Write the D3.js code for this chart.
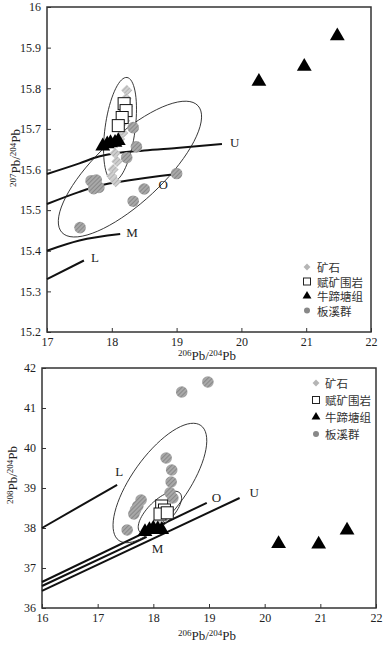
<!DOCTYPE html>
<html lang="zh">
<head>
<meta charset="UTF-8">
<title>Pb isotopes</title>
<style>
  body { margin: 0; background: #fff; }
  svg { display: block; }
  .tick text { font-family: "Liberation Serif", "DejaVu Serif", serif; font-size: 12px; fill: #222; }
  .lab { font-family: "Liberation Serif", serif; font-size: 13px; fill: #222; }
  .leg { font-family: "Noto Sans CJK SC", sans-serif; font-size: 11.5px; fill: #333; }
</style>
</head>
<body>
<div id="chart"></div>
<script src="https://d3js.org/d3.v7.min.js"></script>
<script>
// ---------- data : top panel 206Pb/204Pb vs 207Pb/204Pb ----------
var oreA = [[18.23,15.795],[18.22,15.775],[18.24,15.755],[18.2,15.72],[18.17,15.69],[18.12,15.675],
            [18.05,15.64],[18.08,15.62],[18.02,15.60],[18.0,15.584],[18.06,15.57]];
var hostA = [[18.19,15.762],[18.22,15.745],[18.16,15.728],[18.10,15.708]];
var ntA = [[17.86,15.66],[17.93,15.665],[17.98,15.668],[18.05,15.669],[18.1,15.673],
           [20.27,15.819],[20.97,15.856],[21.48,15.931]];
var bxA = [[18.33,15.703],[18.38,15.656],[18.23,15.629],[17.68,15.572],[17.76,15.574],[17.72,15.553],
           [17.80,15.556],[18.50,15.552],[18.33,15.522],[17.51,15.457],[19.0,15.59]];
var curvesA = {
  U: [[17,15.589],[17.5,15.615],[17.8,15.632],[18.5,15.647],[19,15.653],[19.7,15.663]],
  O: [[17,15.515],[17.5,15.545],[17.8,15.56],[18.3,15.574],[18.74,15.584],[19.0,15.589]],
  M: [[17,15.4],[17.5,15.425],[18.13,15.441]],
  L: [[17,15.33],[17.57,15.376]]
};
// ellipse: centre, semi-axis vector A, semi-axis vector B (data units)
var ellA = [
  {c:[18.28,15.601], a:[1.05,0.156], b:[0.346,-0.060]},
  {c:[18.127,15.699], a:[0.108,0.1275], b:[0.23,-0.005]}
];
var xTicksA = [17,18,19,20,21,22];
var yTicksA = [15.2,15.3,15.4,15.5,15.6,15.7,15.8,15.9,16];

// ---------- data : bottom panel 206Pb/204Pb vs 208Pb/204Pb ----------
var oreB = [[18.15,38.35],[18.22,38.28],[18.1,38.2],[18.28,38.45]];
var hostB = [[18.15,38.55],[18.2,38.45],[18.12,38.35],[18.25,38.38]];
var ntB = [[17.85,37.93],[17.93,37.98],[18.0,38.02],[18.08,38.0],[18.15,37.98],
           [20.25,37.63],[20.97,37.62],[21.48,37.97]];
var bxB = [[18.51,41.4],[18.98,41.65],[18.23,39.75],[18.33,39.45],[18.32,39.15],[18.30,38.88],
           [18.35,38.75],[17.78,38.7],[17.72,38.55],[17.68,38.45],[17.65,38.35],[17.53,37.95]];
var curvesB = {
  L: [[16,38.0],[17.35,39.08]],
  O: [[16,36.65],[18.96,38.63]],
  M: [[16,36.55],[17.88,37.78]],
  U: [[16,36.43],[19.55,38.75]]
};
var ellB = [
  {c:[18.118,39.125], a:[0.736,1.4375], b:[0.409,-0.405]},
  {c:[18.118,38.3875], a:[0.359,0.4875], b:[0.151,-0.215]}
];
var xTicksB = [16,17,18,19,20,21,22];
var yTicksB = [36,37,38,39,40,41,42];

var legendNames = ["矿石", "赋矿围岩", "牛蹄塘组", "板溪群"];

var svg = d3.select("#chart").append("svg")
    .attr("width", 385).attr("height", 646);

var defs = svg.append("defs");
function hatch(id, bg, fg) {
  var p = defs.append("pattern").attr("id", id)
      .attr("width", 3).attr("height", 3)
      .attr("patternUnits", "userSpaceOnUse")
      .attr("patternTransform", "rotate(45)");
  p.append("rect").attr("width", 3).attr("height", 3).attr("fill", bg);
  p.append("line").attr("x1", 0).attr("y1", 0).attr("x2", 0).attr("y2", 3)
      .attr("stroke", fg).attr("stroke-width", 1.4);
}
hatch("hc", "#a8a8a8", "#7a7a7a");
hatch("hd", "#d0d0d0", "#a6a6a6");

function panel(cfg) {
  var x = d3.scaleLinear().domain(cfg.xd).range(cfg.xr);
  var y = d3.scaleLinear().domain(cfg.yd).range(cfg.yr);
  var g = svg.append("g");

  // axes, ticks inward
  g.append("g").attr("transform", "translate(0," + cfg.yr[0] + ")")
    .call(d3.axisBottom(x).tickValues(cfg.xt).tickSize(-4).tickPadding(5).tickFormat(d3.format("d")))
    .call(function (a) { a.select(".domain").remove(); });
  g.append("g").attr("transform", "translate(" + cfg.xr[0] + ",0)")
    .call(d3.axisLeft(y).tickValues(cfg.yt).tickSize(-4).tickPadding(6).tickFormat(function (d) { return d3.format("")(+d.toFixed(1)); }))
    .call(function (a) { a.select(".domain").remove(); });
  g.selectAll(".tick line").attr("stroke", "#333");

  g.append("rect").attr("x", cfg.xr[0]).attr("y", cfg.yr[1])
    .attr("width", cfg.xr[1] - cfg.xr[0]).attr("height", cfg.yr[0] - cfg.yr[1])
    .attr("fill", "none").attr("stroke", "#333").attr("stroke-width", 1.5);

  // growth curves
  var line = d3.line().x(function (d) { return x(d[0]); }).y(function (d) { return y(d[1]); })
      .curve(d3.curveMonotoneX);
  Object.keys(cfg.curves).forEach(function (k) {
    var pts = cfg.curves[k];
    g.append("path").attr("d", line(pts)).attr("fill", "none")
      .attr("stroke", "#111").attr("stroke-width", 2);
    var last = pts[pts.length - 1], off = cfg.labOff[k];
    g.append("text").attr("class", "lab")
      .attr("x", x(last[0]) + off[0]).attr("y", y(last[1]) + off[1])
      .attr("dominant-baseline", "middle").text(k);
  });

  // ellipses
  var eline = d3.line().x(function (d) { return x(d[0]); }).y(function (d) { return y(d[1]); })
      .curve(d3.curveLinearClosed);
  cfg.ells.forEach(function (e) {
    var pts = d3.range(0, 72).map(function (i) {
      var t = i / 72 * 2 * Math.PI;
      return [e.c[0] + e.a[0] * Math.cos(t) + e.b[0] * Math.sin(t),
              e.c[1] + e.a[1] * Math.cos(t) + e.b[1] * Math.sin(t)];
    });
    g.append("path").attr("d", eline(pts)).attr("fill", "none")
      .attr("stroke", "#222").attr("stroke-width", 0.9);
  });

  var sym = d3.symbol();
  // 板溪群
  g.selectAll(".bx").data(cfg.bx).enter().append("circle")
    .attr("cx", function (d) { return x(d[0]); }).attr("cy", function (d) { return y(d[1]); })
    .attr("r", 5.8).attr("fill", "url(#hc)");
  // 矿石
  g.selectAll(".ore").data(cfg.ore).enter().append("path")
    .attr("d", sym.type(d3.symbolDiamond2).size(80)())
    .attr("transform", function (d) { return "translate(" + x(d[0]) + "," + y(d[1]) + ")"; })
    .attr("fill", "url(#hd)");
  // 赋矿围岩
  g.selectAll(".host").data(cfg.host).enter().append("rect")
    .attr("x", function (d) { return x(d[0]) - 6; }).attr("y", function (d) { return y(d[1]) - 6; })
    .attr("width", 12).attr("height", 12)
    .attr("fill", "#fff").attr("stroke", "#111").attr("stroke-width", 1);
  // 牛蹄塘组
  g.selectAll(".nt").data(cfg.nt).enter().append("path")
    .attr("d", d3.symbol().type(d3.symbolTriangle).size(95)())
    .attr("transform", function (d) { return "translate(" + x(d[0]) + "," + (y(d[1]) + 1) + ")"; })
    .attr("fill", "#000");

  // axis titles
  var yl = g.append("text").attr("class", "lab")
    .attr("transform", "translate(" + cfg.ylab[0] + "," + cfg.ylab[1] + ") rotate(-90)")
    .attr("text-anchor", "middle");
  yl.append("tspan").attr("font-size", 9).attr("dy", -4).text(cfg.yiso);
  yl.append("tspan").attr("dy", 4).text("Pb/");
  yl.append("tspan").attr("font-size", 9).attr("dy", -4).text("204");
  yl.append("tspan").attr("dy", 4).text("Pb");

  var xl = g.append("text").attr("class", "lab")
    .attr("x", cfg.xlab[0]).attr("y", cfg.xlab[1]).attr("text-anchor", "middle");
  xl.append("tspan").attr("font-size", 9).attr("dy", -4).text("206");
  xl.append("tspan").attr("dy", 4).text("Pb/");
  xl.append("tspan").attr("font-size", 9).attr("dy", -4).text("204");
  xl.append("tspan").attr("dy", 4).text("Pb");

  // legend
  var lg = g.append("g").attr("transform", "translate(" + cfg.leg[0] + "," + cfg.leg[1] + ")");
  legendNames.forEach(function (n, i) {
    var row = lg.append("g").attr("transform", "translate(0," + i * cfg.leg[2] + ")");
    if (i === 0) row.append("path").attr("d", d3.symbol().type(d3.symbolDiamond2).size(30)()).attr("fill", "#b5b5b5");
    if (i === 1) row.append("rect").attr("x", -3.5).attr("y", -3.5).attr("width", 7).attr("height", 7)
        .attr("fill", "#fff").attr("stroke", "#222");
    if (i === 2) row.append("path").attr("d", d3.symbol().type(d3.symbolTriangle).size(34)()).attr("fill", "#000");
    if (i === 3) row.append("circle").attr("r", 3).attr("fill", "#888");
    row.append("text").attr("class", "leg").attr("x", cfg.leg[3]).attr("y", 0)
      .attr("dominant-baseline", "central").text(n);
  });
}

panel({
  xd: [17, 22], xr: [47, 371], yd: [15.2, 16], yr: [332, 7],
  xt: xTicksA, yt: yTicksA, curves: curvesA, ells: ellA,
  labOff: {U: [8, 0], O: [-18, 12], M: [6, 0], L: [7, -1]},
  ore: oreA, host: hostA, nt: ntA, bx: bxA,
  ylab: [20, 158], yiso: "207", xlab: [207, 360], leg: [307, 267, 14.5, 10]
});

panel({
  xd: [16, 22], xr: [42, 376], yd: [36, 42], yr: [608, 368],
  xt: xTicksB, yt: yTicksB, curves: curvesB, ells: ellB,
  labOff: {L: [-2, -12], O: [5, -4], M: [5, 13], U: [10, -4]},
  ore: oreB, host: hostB, nt: ntB, bx: bxB,
  ylab: [17, 475], yiso: "208", xlab: [207, 640], leg: [316, 383, 17, 9]
});
</script>
</body>
</html>
